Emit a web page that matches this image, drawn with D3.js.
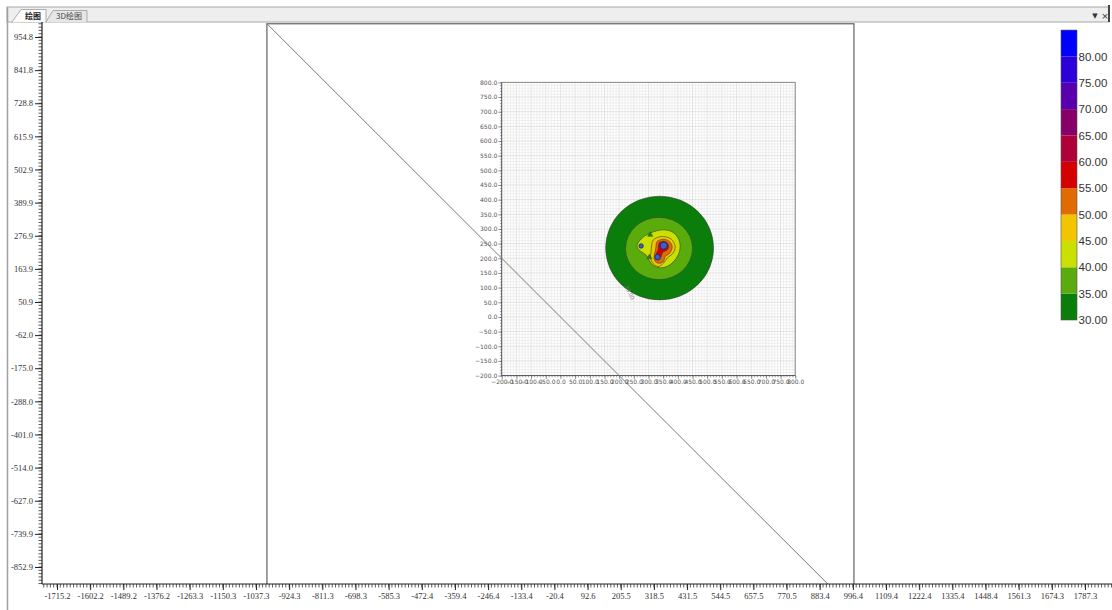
<!DOCTYPE html>
<html>
<head>
<meta charset="utf-8">
<script src="https://cdn.jsdelivr.net/npm/d3@7"></script>
<style>
  body { margin: 0; background: #fff; overflow: hidden; }
  svg { display: block; }
</style>
</head>
<body>
<svg id="chart" width="1112" height="610"></svg>
<script>
// outer axis tick labels (as printed)
const xTickLabels = ["-1715.2","-1602.2","-1489.2","-1376.2","-1263.3","-1150.3","-1037.3","-924.3","-811.3","-698.3",
  "-585.3","-472.4","-359.4","-246.4","-133.4","-20.4","92.6","205.5","318.5","431.5","544.5","657.5","770.5",
  "883.4","996.4","1109.4","1222.4","1335.4","1448.4","1561.3","1674.3","1787.3"];
const yTickLabels = ["954.8","841.8","728.8","615.9","502.9","389.9","276.9","163.9","50.9","-62.0","-175.0",
  "-288.0","-401.0","-514.0","-627.0","-739.9","-852.9"];

// inner chart ticks
const innerTicks = [-200,-150,-100,-50,0,50,100,150,200,250,300,350,400,450,500,550,600,650,700,750,800];

// image frame and the diagonal line (data units)
const frame = [-1000, 1000];
const diagonal = [[-1000, 1000], [1000, -1000]];

// legend levels and colours
const levels = [30,35,40,45,50,55,60,65,70,75,80];
const levelColors = ["#0b7d0b","#5aac0c","#c9e000","#f2c500","#e06b00","#d40000","#b0003a","#870068","#5800ad","#2c00d8","#0000ff"];

// contour zones (inner data units)
const zone30 = {cx: 338, cy: 235, rx: 184, ry: 177};
const zone35 = {cx: 336, cy: 233.5, rx: 114, ry: 106};
const zone40 = [[261,242],[275,266],[299,283],[326,293],[353,297],[381,290],[401,269],[408,242],[401,211],
  [384,187],[357,170],[326,170],[306,187],[292,211],[272,225]];
const zone45 = [[316,262],[343,274],[377,266],[391,240],[384,218],[364,201],[352,184],[333,172],[316,182],
  [307,201],[309,223],[311,245]];
const zone50 = [[329,257],[351,265],[372,257],[381,238],[372,217],[357,206],[351,189],[337,183],[323,189],
  [319,206],[324,228],[326,245]];
const zone55 = [[337,253],[353,258],[365,251],[369,239],[362,227],[349,221],[342,203],[333,194],[325,199],
  [326,214],[333,230],[334,244]];
const peakRings = [
  {cx: 352, cy: 242, r: 9, level: 60},
  {cx: 352, cy: 242, r: 6.5, level: 65},
  {cx: 331, cy: 203, r: 6, level: 60}
];
const dots = [[352, 243, 3.6], [331, 204, 2.8], [275, 242, 2.2]];
const triangles = [[306, 280], [303, 203.5]];
const contourLabel = {x: 217, y: 104, text: "30.00"};

const svg = d3.select("#chart");
const W = 1112, H = 610;

const x = d3.scaleLinear().domain([-1715.2, 1787.3]).range([57, 1085]);
const y = d3.scaleLinear().domain([954.8, -852.9]).range([37, 567]);

const plotL = 42, plotT = 22, plotR = 1112, plotB = 584;

// ---- window chrome ----
svg.append("rect").attr("x", 0).attr("y", 0).attr("width", W).attr("height", H).attr("fill", "#fff");
svg.append("rect").attr("x", 7).attr("y", 7).attr("width", 1102).attr("height", 15)
  .attr("fill", "#eeeeee").attr("stroke", "#a8a8a8").attr("stroke-width", 1);
svg.append("line").attr("x1", 1109).attr("x2", 1109).attr("y1", 5).attr("y2", 22)
  .attr("stroke", "#444").attr("stroke-width", 2);
// tabs
svg.append("path").attr("d", "M12,22 L21,9.5 L46,9.5 L46,22")
  .attr("fill", "#fbfbfb").attr("stroke", "#9a9a9a").attr("stroke-width", 0.8);
svg.append("path").attr("d", "M46,22 L53,10.5 L87,10.5 L87,22")
  .attr("fill", "#e6e6e6").attr("stroke", "#9a9a9a").attr("stroke-width", 0.8);
svg.append("text").attr("x", 33).attr("y", 19).attr("text-anchor", "middle")
  .attr("font-family", "Noto Sans CJK SC").attr("font-size", 8).attr("font-weight", "bold")
  .attr("fill", "#222").text("绘图");
svg.append("text").attr("x", 69).attr("y", 19).attr("text-anchor", "middle")
  .attr("font-family", "Noto Sans CJK SC").attr("font-size", 8)
  .attr("fill", "#444").text("3D绘图");
svg.append("text").attr("x", 1095).attr("y", 18).attr("text-anchor", "middle")
  .attr("font-family", "DejaVu Sans").attr("font-size", 7).attr("fill", "#333").text("▼");
svg.append("text").attr("x", 1105).attr("y", 18.5).attr("text-anchor", "middle")
  .attr("font-family", "DejaVu Sans").attr("font-size", 9).attr("fill", "#333").text("×");
// left frame line
svg.append("line").attr("x1", 7.5).attr("x2", 7.5).attr("y1", 7).attr("y2", H)
  .attr("stroke", "#a0a0a0").attr("stroke-width", 1.5);

// ---- plot ----
svg.append("clipPath").attr("id", "plotClip").append("rect")
  .attr("x", plotL).attr("y", plotT).attr("width", plotR - plotL).attr("height", plotB - plotT);
const plot = svg.append("g").attr("clip-path", "url(#plotClip)");

plot.append("rect").attr("x", x(frame[0])).attr("y", y(frame[1]))
  .attr("width", x(frame[1]) - x(frame[0])).attr("height", y(frame[0]) - y(frame[1]))
  .attr("fill", "none").attr("stroke", "#6e6e6e").attr("stroke-width", 1.3);

// ---- inner chart ----
const inner = plot.append("g");
const ix0 = x(-200), ix1 = x(800), iy0 = y(800), iy1 = y(-200);
inner.append("rect").attr("x", ix0).attr("y", iy0).attr("width", ix1 - ix0).attr("height", iy1 - iy0)
  .attr("fill", "#fff");
const fine = d3.range(-200, 801, 10);
inner.append("g").selectAll("line").data(fine).join("line")
  .attr("x1", d => x(d)).attr("x2", d => x(d)).attr("y1", iy0).attr("y2", iy1)
  .attr("stroke", d => d % 50 === 0 ? "#d2d2d2" : "#e6e6e6").attr("stroke-width", 0.6);
inner.append("g").selectAll("line").data(fine).join("line")
  .attr("y1", d => y(d)).attr("y2", d => y(d)).attr("x1", ix0).attr("x2", ix1)
  .attr("stroke", d => d % 50 === 0 ? "#d2d2d2" : "#e6e6e6").attr("stroke-width", 0.6);
inner.append("path").attr("d", `M${ix0},${iy0} L${ix1},${iy0} L${ix1},${iy1}`)
  .attr("fill", "none").attr("stroke", "#8a8a8a").attr("stroke-width", 1);

const outline = "#3a3a3a";
const col = lv => levelColors[levels.indexOf(lv)];
[[zone30, 30], [zone35, 35]].forEach(([z, lv]) => {
  inner.append("ellipse").attr("cx", x(z.cx)).attr("cy", y(z.cy))
    .attr("rx", x(z.cx + z.rx) - x(z.cx)).attr("ry", y(z.cy - z.ry) - y(z.cy))
    .attr("fill", col(lv)).attr("stroke", outline).attr("stroke-width", 0.5);
});
const closed = d3.line().x(d => x(d[0])).y(d => y(d[1])).curve(d3.curveCatmullRomClosed.alpha(0.5));
[[zone40, 40], [zone45, 45], [zone50, 50], [zone55, 55]].forEach(([pts, lv]) => {
  inner.append("path").attr("d", closed(pts))
    .attr("fill", col(lv)).attr("stroke", outline).attr("stroke-width", 0.6);
});
inner.append("g").selectAll("circle").data(peakRings).join("circle")
  .attr("cx", d => x(d.cx)).attr("cy", d => y(d.cy)).attr("r", d => x(d.cx + d.r) - x(d.cx))
  .attr("fill", d => col(d.level)).attr("stroke", outline).attr("stroke-width", 0.5);
inner.append("g").selectAll("circle").data(dots).join("circle")
  .attr("cx", d => x(d[0])).attr("cy", d => y(d[1])).attr("r", d => d[2])
  .attr("fill", "#3d5ec8").attr("stroke", "#1a2660").attr("stroke-width", 0.8);
inner.append("g").selectAll("path").data(triangles).join("path")
  .attr("d", d3.symbol(d3.symbolTriangle, 12))
  .attr("transform", d => `translate(${x(d[0])},${y(d[1])})`)
  .attr("fill", "#2f7d20").attr("stroke", "#1d4d12").attr("stroke-width", 0.4);
inner.append("text").attr("transform", `translate(${x(contourLabel.x)},${y(contourLabel.y)}) rotate(62)`)
  .attr("font-family", "DejaVu Sans").attr("font-size", 5.5).attr("fill", "#777").text(contourLabel.text);

// inner axes (domain lines drawn only over the inner area)
const innerAxisFont = g => g.selectAll("text").attr("font-family", "DejaVu Sans").attr("font-size", 6).attr("fill", "#555");
const innerMinor = d3.range(-200, 801, 10);
inner.append("g").attr("transform", `translate(${ix0},0)`)
  .call(d3.axisLeft(y).tickValues(innerMinor).tickSize(1.8).tickFormat(""))
  .call(g => g.select(".domain").remove())
  .call(g => g.selectAll("line").attr("stroke", "#555").attr("stroke-width", 0.5));
inner.append("g").attr("transform", `translate(${ix0},0)`)
  .call(d3.axisLeft(y).tickValues(innerTicks).tickSize(3.5).tickPadding(1).tickFormat(d3.format(".1f")))
  .call(g => g.select(".domain").remove())
  .call(g => g.selectAll("line").attr("stroke", "#555").attr("stroke-width", 0.6))
  .call(innerAxisFont);
inner.append("g").attr("transform", `translate(0,${iy1})`)
  .call(d3.axisBottom(x).tickValues(innerMinor).tickSize(1.8).tickFormat(""))
  .call(g => g.select(".domain").remove())
  .call(g => g.selectAll("line").attr("stroke", "#555").attr("stroke-width", 0.5));
inner.append("g").attr("transform", `translate(0,${iy1})`)
  .call(d3.axisBottom(x).tickValues(innerTicks).tickSize(3.5).tickPadding(1).tickFormat(d3.format(".1f")))
  .call(g => g.select(".domain").remove())
  .call(g => g.selectAll("line").attr("stroke", "#555").attr("stroke-width", 0.6))
  .call(innerAxisFont);
inner.append("path").attr("d", `M${ix0},${iy0} L${ix0},${iy1} L${ix1},${iy1}`)
  .attr("fill", "none").attr("stroke", "#333").attr("stroke-width", 0.8);

// diagonal line over everything in the plot
plot.append("line")
  .attr("x1", x(diagonal[0][0])).attr("y1", y(diagonal[0][1]))
  .attr("x2", x(diagonal[1][0])).attr("y2", y(diagonal[1][1]))
  .attr("stroke", "#7a7a7a").attr("stroke-width", 1);

// ---- outer axes ----
const xMajor = xTickLabels.map(Number);
const yMajor = yTickLabels.map(Number);
const xStep = (xMajor[xMajor.length - 1] - xMajor[0]) / (xMajor.length - 1) / 10;
const yStep = (yMajor[0] - yMajor[yMajor.length - 1]) / (yMajor.length - 1) / 10;
const xMin = x.invert(plotL), xMax = x.invert(plotR);
const xMinor = d3.range(xMajor[0] - Math.floor((xMajor[0] - xMin) / xStep) * xStep, xMax, xStep);
const yLo = y.invert(plotB), yHi = y.invert(plotT);
const yMinor = d3.range(yMajor[yMajor.length - 1] - Math.floor((yMajor[yMajor.length - 1] - yLo) / yStep) * yStep, yHi, yStep);

const outerFont = g => g.selectAll("text").attr("font-family", "Liberation Serif").attr("font-size", 8.5).attr("fill", "#333");

svg.append("g").selectAll("line").data(xMinor).join("line")
  .attr("x1", d => x(d)).attr("x2", d => x(d)).attr("y1", plotB).attr("y2", plotB + 3.5)
  .attr("stroke", "#333").attr("stroke-width", 0.8);
svg.append("g").attr("transform", `translate(0,${plotB})`)
  .call(d3.axisBottom(x).tickValues(xMajor).tickSize(6).tickPadding(3).tickFormat((d, i) => xTickLabels[i]))
  .call(g => g.select(".domain").remove())
  .call(g => g.selectAll("line").attr("stroke", "#222").attr("stroke-width", 1))
  .call(outerFont);
svg.append("line").attr("x1", plotL).attr("x2", plotR).attr("y1", plotB).attr("y2", plotB)
  .attr("stroke", "#222").attr("stroke-width", 1.2);

svg.append("g").selectAll("line").data(yMinor).join("line")
  .attr("y1", d => y(d)).attr("y2", d => y(d)).attr("x1", plotL - 3.5).attr("x2", plotL)
  .attr("stroke", "#333").attr("stroke-width", 0.8);
svg.append("g").attr("transform", `translate(${plotL},0)`)
  .call(d3.axisLeft(y).tickValues(yMajor).tickSize(7).tickPadding(2).tickFormat((d, i) => yTickLabels[i]))
  .call(g => g.select(".domain").remove())
  .call(g => g.selectAll("line").attr("stroke", "#222").attr("stroke-width", 1))
  .call(outerFont);
svg.append("line").attr("x1", plotL).attr("x2", plotL).attr("y1", plotT).attr("y2", plotB)
  .attr("stroke", "#222").attr("stroke-width", 1.2);

// ---- legend ----
const lg = svg.append("g");
const legY = d3.scaleLinear().domain([30, 80]).range([320, 56.4]);
const blockH = legY(30) - legY(35);
lg.selectAll("rect").data(levels).join("rect")
  .attr("x", 1061).attr("width", 16)
  .attr("y", d => legY(d) - blockH).attr("height", blockH)
  .attr("fill", (d, i) => levelColors[i]);
lg.append("rect").attr("x", 1061).attr("width", 16).attr("y", legY(80) - blockH).attr("height", legY(30) - legY(80) + blockH)
  .attr("fill", "none").attr("stroke", "#555").attr("stroke-width", 0.6);
lg.selectAll("text").data(levels).join("text")
  .attr("x", 1078.5).attr("y", d => legY(d)).attr("dy", "0.36em")
  .attr("font-family", "Liberation Sans").attr("font-size", 11.5).attr("fill", "#333")
  .text(d => d3.format(".2f")(d));
</script>
</body>
</html>
